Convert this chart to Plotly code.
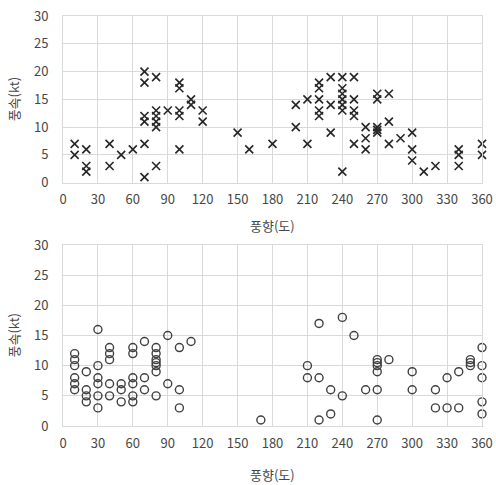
import plotly.graph_objects as go
from plotly.subplots import make_subplots

# Top chart (x markers): wind direction (deg) and wind speed (kt)
top_dir = [10, 10, 20, 20, 20, 40, 40, 50, 60,
           70, 70, 70, 70, 70, 70,
           80, 80, 80, 80, 80, 80,
           90, 100, 100, 100, 100, 100, 110, 110, 120, 120,
           150, 160, 180, 200, 200, 210, 210,
           220, 220, 220, 220, 220, 230, 230, 230,
           240, 240, 240, 240, 240, 240, 240,
           250, 250, 250, 250, 250, 260, 260, 260,
           270, 270, 270, 270, 270, 280, 280, 280,
           290, 300, 300, 300, 310, 320, 340, 340, 340, 360, 360]
top_speed = [7, 5, 6, 3, 2, 7, 3, 5, 6,
             20, 18, 12, 11, 7, 1,
             19, 13, 12, 11, 10, 3,
             13, 18, 17, 13, 12, 6, 15, 14, 13, 11,
             9, 6, 7, 14, 10, 15, 7,
             18, 17, 15, 13, 12, 19, 14, 9,
             19, 17, 16, 15, 14, 13, 2,
             19, 15, 13, 12, 7, 10, 8, 6,
             16, 15, 10, 9.5, 9, 16, 11, 7,
             8, 9, 6, 4, 2, 3, 6, 5, 3, 7, 5]

# Bottom chart (o markers)
bot_dir = [10, 10, 10, 10, 10, 10, 20, 20, 20, 20,
           30, 30, 30, 30, 30, 30, 40, 40, 40, 40, 40,
           50, 50, 50, 60, 60, 60, 60, 60, 60, 70, 70, 70,
           80, 80, 80, 80, 80, 80, 80, 90, 90, 100, 100, 100, 110,
           170, 210, 210, 220, 220, 220, 230, 230, 240, 240, 250, 260,
           270, 270, 270, 270, 270, 270, 280, 300, 300, 320, 320,
           330, 330, 340, 340, 350, 350, 350, 360, 360, 360, 360, 360]
bot_speed = [12, 11, 10, 8, 7, 6, 9, 6, 5, 4,
             16, 10, 8, 7, 5, 3, 13, 12, 11, 7, 5,
             7, 6, 4, 13, 12, 8, 7, 5, 4, 14, 8, 6,
             13, 12, 11, 10.5, 10, 9, 5, 15, 7, 13, 6, 3, 14,
             1, 10, 8, 17, 8, 1, 6, 2, 18, 5, 15, 6,
             11, 10.5, 10, 9, 6, 1, 11, 9, 6, 6, 3,
             8, 3, 9, 3, 11, 10.5, 10, 13, 10, 8, 4, 2]

x_ticks = [0, 30, 60, 90, 120, 150, 180, 210, 240, 270, 300, 330, 360]
y_ticks = [0, 5, 10, 15, 20, 25, 30]
x_title = "풍향(도)"
y_title = "풍속(kt)"

FONT = "Noto Sans CJK KR, Malgun Gothic, sans-serif"
TXT = "#474747"
GRID = "#d9d9d9"

TOP_DOM = [0.5934, 1.0]
BOT_DOM = [0.0, 0.4415]

fig = make_subplots(rows=2, cols=1, vertical_spacing=0.0)

fig.add_trace(go.Scatter(
    x=top_dir, y=top_speed, mode="markers", cliponaxis=False,
    marker=dict(symbol="x-thin", size=8, line=dict(color="#262626", width=1.6)),
    showlegend=False), row=1, col=1)

fig.add_trace(go.Scatter(
    x=bot_dir, y=bot_speed, mode="markers", cliponaxis=False,
    marker=dict(symbol="circle-open", size=8, color="#404040",
                line=dict(color="#404040", width=1.4)),
    showlegend=False), row=2, col=1)

axis_common = dict(showgrid=True, gridcolor=GRID, gridwidth=1, zeroline=False,
                   showline=True, linecolor=GRID, linewidth=1, mirror=True,
                   ticks="", automargin=False,
                   tickfont=dict(family=FONT, size=13, color=TXT))

for r, dom in ((1, TOP_DOM), (2, BOT_DOM)):
    fig.update_xaxes(range=[0, 360], tickvals=x_ticks, ticktext=[str(t) for t in x_ticks],
                     ticklabelstandoff=5, **axis_common, row=r, col=1)
    fig.update_yaxes(range=[0, 30], tickvals=y_ticks, domain=dom,
                     ticklabelstandoff=11, **axis_common, row=r, col=1)

annotations = []
for dom, xt_shift in ((TOP_DOM, -43), (BOT_DOM, -48)):
    annotations.append(dict(text=x_title, xref="paper", yref="paper", x=0.5, y=dom[0],
                            xanchor="center", yanchor="middle", yshift=xt_shift,
                            showarrow=False, font=dict(family=FONT, size=13, color=TXT)))
    annotations.append(dict(text=y_title, xref="paper", yref="paper", x=0,
                            y=(dom[0] + dom[1]) / 2, xanchor="center", yanchor="middle",
                            xshift=-50, textangle=-90,
                            showarrow=False, font=dict(family=FONT, size=13, color=TXT)))

fig.update_layout(
    width=496, height=485,
    margin=dict(l=63, r=14, t=16, b=59),
    paper_bgcolor="white", plot_bgcolor="white",
    font=dict(family=FONT, color=TXT),
    annotations=annotations,
    hovermode=False,
)

fig.write_html(
    "out.html",
    config={"displayModeBar": False, "staticPlot": True},
    post_script="document.documentElement.style.margin='0';document.body.style.margin='0';"
                "document.body.style.overflow='hidden';",
)
